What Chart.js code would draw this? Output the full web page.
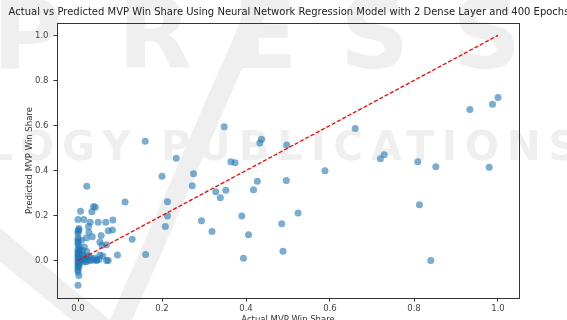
<!DOCTYPE html>
<html>
<head>
<meta charset="utf-8">
<script src="https://cdn.jsdelivr.net/npm/chart.js@4"></script>
<style>
  body { margin: 0; background: #fff; }
  #wrap { width: 567px; height: 320px; position: relative; }
</style>
</head>
<body>
<div id="wrap"><canvas id="mvpChart"></canvas></div>
<script>
// Actual vs predicted MVP win share
const actualShare = [
  1.0, 0.987, 0.933, 0.979, 0.852, 0.809, 0.813, 0.84, 0.729, 0.72, 0.66,
  0.348, 0.437, 0.433, 0.497, 0.234, 0.364, 0.374, 0.2, 0.275, 0.272, 0.588, 0.427, 0.496,
  0.328, 0.352, 0.418, 0.339, 0.213, 0.213, 0.208, 0.294, 0.39, 0.524, 0.319, 0.406, 0.485,
  0.394, 0.488, 0.16, 0.021,
  0.112, 0.037, 0.041, 0.033, 0.006, 0.0, 0.014, 0.029, 0.048, 0.066, 0.083, 0.072, 0.082,
  0.026, 0.002, 0.002, 0.025, 0.055, 0.034, 0.057, 0.068, 0.129, 0.052, 0.161, 0.094, 0.072,
  0.068, 0.037, 0.043, 0.052, 0.059, 0.025, 0.029, 0.021, 0.013, 0.0, 0.002, 0.0, 0.02,
  0.0, 0.0, 0.0, 0.0, 0.0, 0.0, 0.003, 0.0, 0.004, 0.0, 0.002, 0.0, 0.003, 0.0, 0.002, 0.0,
  0.003, 0.0, 0.002, 0.0, 0.003, 0.0, 0.002, 0.0, 0.0, 0.01, 0.012, 0.01, 0.015, 0.008,
  0.018, 0.02, 0.01, 0.02, 0.03, 0.04, 0.045, 0.05, 0.015, 0.025
];
const predictedShare = [
  0.724, 0.694, 0.671, 0.414, 0.417, 0.439, 0.248, 0.0, 0.47, 0.452, 0.587,
  0.594, 0.539, 0.522, 0.513, 0.454, 0.439, 0.434, 0.375, 0.386, 0.332, 0.399, 0.352, 0.356,
  0.306, 0.312, 0.315, 0.279, 0.261, 0.198, 0.151, 0.177, 0.198, 0.211, 0.129, 0.115, 0.164,
  0.011, 0.042, 0.53, 0.33,
  0.26, 0.24, 0.237, 0.217, 0.219, 0.182, 0.183, 0.17, 0.17, 0.17, 0.18, 0.133, 0.136,
  0.126, 0.143, 0.136, 0.151, 0.112, 0.106, 0.068, 0.07, 0.095, 0.083, 0.027, 0.025, 0.0,
  0.0, 0.003, 0.003, 0.025, 0.021, 0.003, 0.015, 0.04, 0.025, -0.109, -0.066, -0.041, 0.10,
  0.13, 0.12, 0.10, 0.09, 0.08, 0.07, 0.06, 0.05, 0.045, 0.04, 0.035, 0.03, 0.025, 0.02, 0.015, 0.01,
  0.005, 0.0, -0.005, -0.01, -0.015, -0.02, -0.025, -0.03, -0.05, 0.0, 0.02, 0.045, 0.06, 0.09,
  0.01, -0.005, 0.005, 0.01, 0.0, 0.01, 0.0, 0.005, -0.005, 0.02
];
const idealLine = [0, 1];
const xTicks = [0.0, 0.2, 0.4, 0.6, 0.8, 1.0];
const yTicks = [0.0, 0.2, 0.4, 0.6, 0.8, 1.0];
const chartTitle = 'Actual vs Predicted MVP Win Share Using Neural Network Regression Model with 2 Dense Layer and 400 Epochs';

const FONT = 'DejaVu Sans';

// faint publisher watermark, axes frame and the figure title
const pagePlugin = {
  id: 'page',
  beforeDraw(chart) {
    const ctx = chart.ctx;
    ctx.save();
    ctx.fillStyle = '#fff';
    ctx.fillRect(0, 0, chart.width, chart.height);
    ctx.fillStyle = '#efefef';
    ctx.font = `bold 96px ${FONT}`;
    ctx.textBaseline = 'alphabetic';
    ['P', 'R', 'E', 'S', 'S'].forEach((ch, i) => ctx.fillText(ch, [-8, 118, 232, 340, 452][i], 68));
    ctx.font = `bold 40px ${FONT}`;
    ctx.letterSpacing = '8px';
    ctx.fillText('LOGY PUBLICATIONS', -12, 160);
    ctx.beginPath();
    ctx.moveTo(250, 0); ctx.lineTo(272, 0); ctx.lineTo(132, 320); ctx.lineTo(110, 320);
    ctx.closePath(); ctx.fill();
    ctx.beginPath();
    ctx.moveTo(0, 228); ctx.lineTo(0, 262); ctx.lineTo(72, 320); ctx.lineTo(110, 320);
    ctx.closePath(); ctx.fill();
    ctx.restore();
  },
  afterDraw(chart) {
    const {left, top, right, bottom} = chart.chartArea;
    const ctx = chart.ctx;
    ctx.save();
    ctx.strokeStyle = '#333';
    ctx.lineWidth = 1;
    ctx.strokeRect(Math.round(left) + 0.5, Math.round(top) + 0.5, Math.round(right - left), Math.round(bottom - top));
    ctx.fillStyle = '#222';
    ctx.font = `10px ${FONT}`;
    ctx.textAlign = 'center';
    ctx.textBaseline = 'middle';
    ctx.fillText(chartTitle, 289, 12);
    ctx.restore();
  }
};

const points = actualShare.map((x, i) => ({ x, y: predictedShare[i] }));

new Chart(document.getElementById('mvpChart'), {
  type: 'scatter',
  data: {
    datasets: [
      {
        type: 'line',
        data: idealLine.map(v => ({ x: v, y: v })),
        borderColor: 'rgb(255, 0, 0)',
        borderWidth: 1.3,
        borderDash: [4, 2],
        pointRadius: 0,
        fill: false,
        order: 0
      },
      {
        data: points,
        backgroundColor: 'rgba(31, 119, 180, 0.6)',
        borderWidth: 0,
        pointRadius: 3.5,
        pointHoverRadius: 3.5,
        order: 1
      }
    ]
  },
  options: {
    responsive: true,
    maintainAspectRatio: false,
    animation: false,
    layout: { padding: { left: 0, right: 48, top: 23, bottom: 0 } },
    plugins: {
      legend: { display: false },
      tooltip: { enabled: false },
      title: { display: false }
    },
    scales: {
      x: {
        type: 'linear',
        min: -0.05,
        max: 1.05,
        afterFit(scale) { scale.height = 22; },
        afterBuildTicks(scale) { scale.ticks = xTicks.map(v => ({ value: v })); },
        ticks: {
          color: '#444',
          font: { family: FONT, size: 8.5 },
          padding: 2,
          maxRotation: 0,
          callback: v => v.toFixed(1)
        },
        grid: { drawOnChartArea: false, drawTicks: true, tickLength: 3.5, color: '#333' },
        border: { display: true, color: '#333' },
        title: {
          display: true,
          text: 'Actual MVP Win Share',
          color: '#333',
          font: { family: FONT, size: 8.5 },
          padding: { top: 0, bottom: -5 }
        }
      },
      y: {
        type: 'linear',
        min: -0.166,
        max: 1.055,
        afterFit(scale) { scale.width = 57; },
        afterBuildTicks(scale) { scale.ticks = yTicks.map(v => ({ value: v })); },
        ticks: {
          color: '#444',
          font: { family: FONT, size: 8.5 },
          padding: 5,
          callback: v => v.toFixed(1)
        },
        grid: { drawOnChartArea: false, drawTicks: true, tickLength: 3.5, color: '#333' },
        border: { display: true, color: '#333' },
        title: {
          display: true,
          text: 'Predicted MVP Win Share',
          color: '#333',
          font: { family: FONT, size: 8.5 },
          padding: { top: 25, bottom: 0 }
        }
      }
    }
  },
  plugins: [pagePlugin]
});
</script>
</body>
</html>
